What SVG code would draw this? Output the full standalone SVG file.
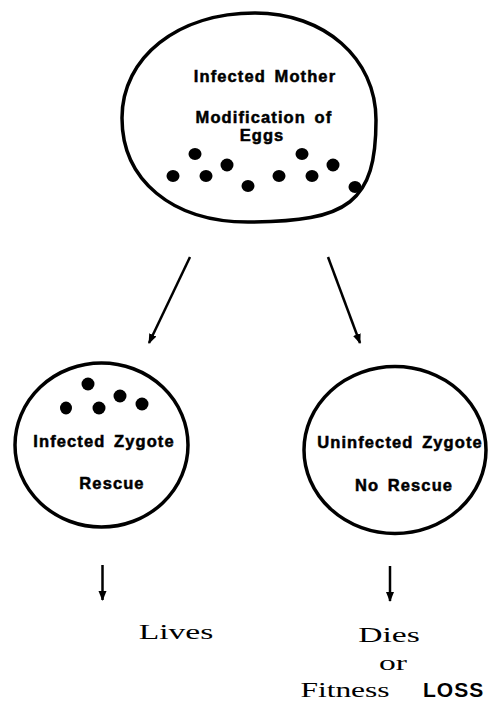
<svg xmlns="http://www.w3.org/2000/svg" width="491" height="703" viewBox="0 0 491 703">
<style>
.shape{fill:none;stroke:#000;stroke-width:3.5}
.dot{fill:#000}
.lbl{font-family:"Liberation Sans",Arial,sans-serif;font-weight:bold;font-size:16.5px;fill:#000;stroke:#000;stroke-width:0.5;text-anchor:middle;letter-spacing:1.1px;word-spacing:3px}
.out{font-family:"Liberation Serif","Times New Roman",serif;font-size:21px;fill:#000;text-anchor:middle}
.conn{stroke:#000;stroke-width:2.5;fill:none}
</style>
<defs>
<marker id="ah" viewBox="0 0 10 10" refX="9" refY="5" markerWidth="4" markerHeight="4" orient="auto" markerUnits="strokeWidth">
<path d="M0,1 L10,5 L0,9 Z" fill="#000"/>
</marker>
</defs>
<g id="mother">
<path class="shape" d="M255,13 C324,13 376,58 376,120 C376,202 349,222 248,222 C172,222 122,180 122,118 C122,57 178,13 255,13 Z"/>
<text class="lbl" x="265" y="82">Infected Mother</text>
<text class="lbl" x="264" y="123">Modification of</text>
<text class="lbl" x="262" y="141">Eggs</text>
<ellipse class="dot" cx="195" cy="154" rx="6.5" ry="6"/>
<ellipse class="dot" cx="173" cy="176" rx="6.5" ry="6"/>
<ellipse class="dot" cx="206" cy="176" rx="6.5" ry="6"/>
<ellipse class="dot" cx="227" cy="165" rx="6.5" ry="6.5"/>
<ellipse class="dot" cx="248" cy="186" rx="6.5" ry="6"/>
<ellipse class="dot" cx="279" cy="176" rx="6.5" ry="6"/>
<ellipse class="dot" cx="302" cy="154" rx="6.5" ry="6"/>
<ellipse class="dot" cx="312" cy="176" rx="6.5" ry="6"/>
<ellipse class="dot" cx="333" cy="165" rx="6.5" ry="6.5"/>
<ellipse class="dot" cx="355" cy="187" rx="6.5" ry="6"/>
</g>
<g id="infected">
<ellipse class="shape" cx="101.5" cy="445" rx="86.5" ry="82"/>
<ellipse class="dot" cx="88" cy="384" rx="6.5" ry="6.5"/>
<ellipse class="dot" cx="66" cy="408" rx="6" ry="6.5"/>
<ellipse class="dot" cx="99" cy="408" rx="6.5" ry="6.5"/>
<ellipse class="dot" cx="120" cy="396" rx="6.5" ry="6.5"/>
<ellipse class="dot" cx="142" cy="404" rx="6.5" ry="6.5"/>
<text class="lbl" x="104" y="447">Infected Zygote</text>
<text class="lbl" x="112" y="489">Rescue</text>
</g>
<g id="uninfected">
<ellipse class="shape" cx="395" cy="450" rx="91" ry="83.5"/>
<text class="lbl" x="400" y="448">Uninfected Zygote</text>
<text class="lbl" x="404" y="491">No Rescue</text>
</g>
<g id="lives">
<text class="out" x="176" y="639" transform="translate(176 0) scale(1.6 1) translate(-176 0)">Lives</text>
</g>
<g id="dies">
<text class="out" x="389" y="642" transform="translate(389 0) scale(1.6 1) translate(-389 0)">Dies</text>
<text class="out" x="393" y="670" transform="translate(393 0) scale(1.6 1) translate(-393 0)">or</text>
<text class="out" x="345" y="697" transform="translate(345 0) scale(1.5 1) translate(-345 0)">Fitness</text>
<text x="423" y="697" style="font-family:'Liberation Sans',Arial,sans-serif;font-weight:bold;font-size:21px;letter-spacing:1px">LOSS</text>
</g>
<g id="connectors">
<line class="conn" x1="190" y1="257" x2="149" y2="343" marker-end="url(#ah)"/>
<line class="conn" x1="328" y1="257" x2="360" y2="343" marker-end="url(#ah)"/>
<line class="conn" x1="102.5" y1="565" x2="102.5" y2="600" marker-end="url(#ah)"/>
<line class="conn" x1="390" y1="566" x2="390" y2="601" marker-end="url(#ah)"/>
</g>
</svg>
